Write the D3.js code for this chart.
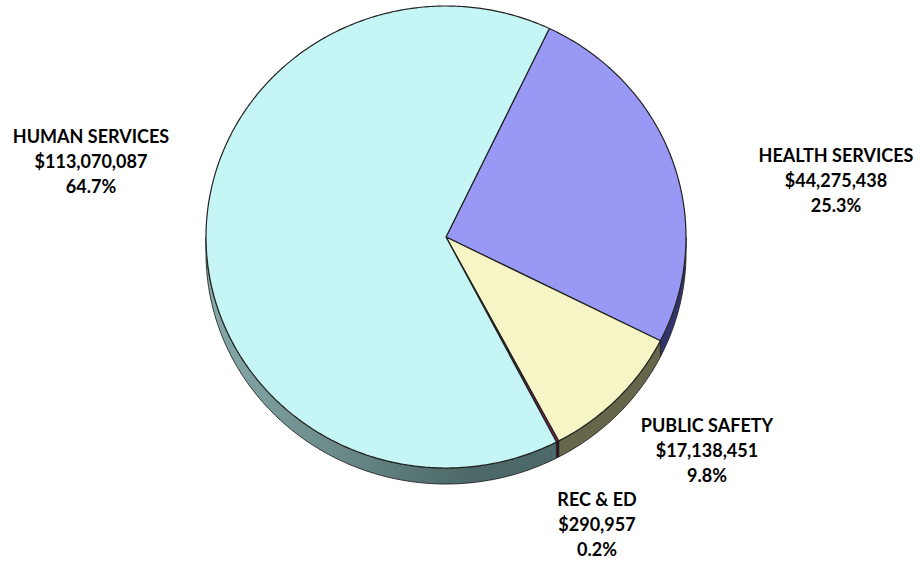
<!DOCTYPE html>
<html>
<head>
<meta charset="utf-8">
<script src="https://cdn.jsdelivr.net/npm/d3@7"></script>
<style>
  html, body { margin: 0; padding: 0; background: #ffffff; }
  svg { display: block; }
  .lbl { font-family: Lato, "Open Sans", sans-serif; font-weight: 700; fill: #000; }
</style>
</head>
<body>
<svg id="chart" width="920" height="562"></svg>
<script>
// Budget by program area (dollars), drawn clockwise starting with Health Services
const categories = ["HEALTH SERVICES", "PUBLIC SAFETY", "REC & ED", "HUMAN SERVICES"];
const amounts = [44275438, 17138451, 290957, 113070087];
const percentLabels = ["25.3%", "9.8%", "0.2%", "64.7%"];
const topColors = ["#9999f5", "#f5f5c6", "#8c1f52", "#c6f5f5"];
const sideLight = ["#5656a0", "#8f8f6c", "#5a1030", "#88aaaa"];
const sideDark = ["#34346c", "#66664a", "#3a0820", "#4c6868"];

// label anchor: centre x and first baseline y
const labelPos = [
  { x: 836, y: 162 },
  { x: 707, y: 432 },
  { x: 597, y: 506 },
  { x: 91, y: 143 }
];

const svg = d3.select("#chart");
const cx = 446, cy = 237, rx = 240, ry = 231, depth = 16;
const startDeg = 25.5;

const pie = d3.pie()
  .sort(null)
  .value(d => d)
  .startAngle(startDeg * Math.PI / 180)
  .endAngle(startDeg * Math.PI / 180 + 2 * Math.PI);
const arcs = pie(amounts);

// point on the rim, angle clockwise from 12 o'clock
const rim = (a, dy = 0) => [cx + rx * Math.sin(a), cy - ry * Math.cos(a) + dy];
const samples = (a0, a1) => {
  const n = Math.max(2, Math.ceil(Math.abs(a1 - a0) / 0.01));
  return d3.range(n + 1).map(i => a0 + (a1 - a0) * i / n);
};
const line = d3.line();

const defs = svg.append("defs");
arcs.forEach((d, i) => {
  const g = defs.append("linearGradient")
    .attr("id", "side" + i)
    .attr("gradientUnits", "userSpaceOnUse")
    .attr("x1", cx - rx).attr("y1", 0)
    .attr("x2", cx + rx).attr("y2", 0);
  g.append("stop").attr("offset", "0%").attr("stop-color", sideLight[i]);
  g.append("stop").attr("offset", "55%").attr("stop-color", sideDark[i]);
  g.append("stop").attr("offset", "100%").attr("stop-color", sideDark[i]);
});

// outer walls: only the front half (PI/2 .. 3PI/2) is visible
const lo = Math.PI / 2, hi = 3 * Math.PI / 2;
const walls = svg.append("g");
arcs.forEach((d, i) => {
  [-2 * Math.PI, 0, 2 * Math.PI].forEach(shift => {
    const a0 = Math.max(d.startAngle + shift, lo);
    const a1 = Math.min(d.endAngle + shift, hi);
    if (a1 <= a0) return;
    const top = samples(a0, a1).map(a => rim(a));
    const bottom = samples(a0, a1).reverse().map(a => rim(a, depth));
    walls.append("path")
      .attr("d", line(top.concat(bottom)) + "Z")
      .attr("fill", `url(#side${i})`)
      .attr("stroke", "#222")
      .attr("stroke-width", 0.9)
      .attr("stroke-linejoin", "round");
  });
});

// top faces
const faces = svg.append("g");
arcs.forEach((d, i) => {
  const pts = [[cx, cy]].concat(samples(d.startAngle, d.endAngle).map(a => rim(a)));
  faces.append("path")
    .attr("d", line(pts) + "Z")
    .attr("fill", topColors[i])
    .attr("stroke", "#222")
    .attr("stroke-width", 1.2)
    .attr("stroke-linejoin", "round");
});

// labels: name, dollar amount, share
const fmt = d3.format("$,");
const labels = svg.append("g");
arcs.forEach((d, i) => {
  const t = labels.append("text")
    .attr("class", "lbl")
    .attr("text-anchor", "middle")
    .attr("font-size", 18);
  [categories[i], fmt(amounts[i]), percentLabels[i]].forEach((s, k) => {
    t.append("tspan")
      .attr("x", labelPos[i].x)
      .attr("y", labelPos[i].y + k * 25)
      .text(s);
  });
});
</script>
</body>
</html>
